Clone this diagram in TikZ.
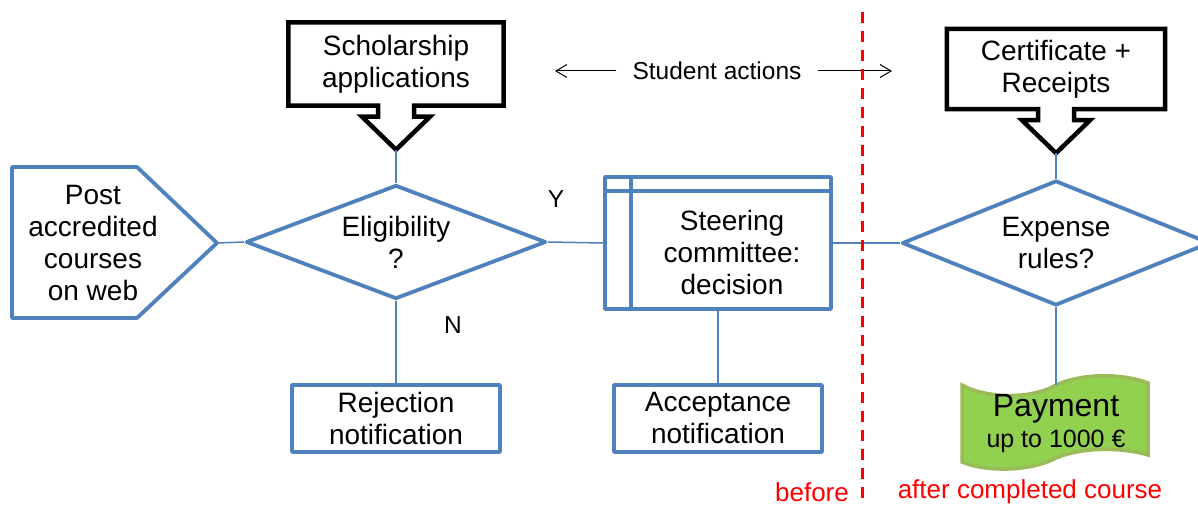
\documentclass[tikz,border=0pt]{standalone}
\usepackage{fontspec}
\setmainfont{Liberation Sans}
\usetikzlibrary{shapes.geometric,arrows.meta}
\definecolor{flowblue}{HTML}{4F81BD}
\definecolor{paygreen}{HTML}{92D050}
\definecolor{payedge}{HTML}{9BBB59}

\begin{document}
\begin{tikzpicture}[
    x=1pt, y=-1pt,
    flow/.style={draw=flowblue, line width=3.8pt, line join=round},
    box/.style={flow, rectangle, minimum width=208, minimum height=67, inner sep=0pt},
    decision/.style={flow, diamond, inner sep=0pt},
    txt/.style={align=center, font=\fontsize{28}{32}\selectfont},
    link/.style={flowblue, line width=1.5pt},
    callout/.style={black, line width=4.5pt, line join=miter},
    note/.style={font=\fontsize{24.5}{28}\selectfont},
    split/.style={red, line width=3pt, dash pattern=on 11pt off 8pt},
    when/.style={red, font=\fontsize{26}{30}\selectfont}]
  \path[use as bounding box, fill=white] (0,0) rectangle (1198,505);
  \clip (0,0) rectangle (1198,505);

  % inputs from the student
  \foreach \nm/\cx/\cy/\w/\h/\txt in {schol/396/64/215/83/{Scholarship\\applications},
                                      cert/1056/69/218/80/{Certificate +\\Receipts}}{
    \node[txt, minimum width=\w, minimum height=\h, inner sep=0pt] (\nm) at (\cx,\cy) {\txt};
    \draw[callout] (\nm.south west) -- ([xshift=-18pt]\nm.south) -- ++(0,11) -- ++(-16,0)
      -- ++(34,33) -- ++(34,-33) -- ++(-16,0) -- ++(0,-11)
      -- (\nm.south east) -- (\nm.north east) -- (\nm.north west) -- cycle;
  }
  \coordinate (schol tip) at ([yshift=-44pt]schol.south);
  \coordinate (cert tip) at ([yshift=-44pt]cert.south);

  % before the course
  \node[txt] (post) at (93,243) {Post\\accredited\\courses\\on web};
  \draw[flow] (12,167) -- (137,167) -- (217,243) coordinate (post tip) -- (137,318) -- (12,318) -- cycle;
  \node[decision, txt, aspect=2.63, minimum width=300, minimum height=114] (elig) at (396,242) {Eligibility\\?};
  \node[flow, minimum width=226, minimum height=132] (steer) at (718,243) {};
  \draw[flow] ([yshift=-16pt]steer.north west) -- ([yshift=-16pt]steer.north east)
              ([xshift=28pt]steer.north west) -- ([xshift=28pt]steer.south west);
  \node[txt] (steer text) at (732,252) {Steering\\committee:\\decision};
  \node[box, txt] (rej) at (396,418.5) {Rejection\\notification};
  \node[box, txt] (acc) at (718,418.5) {Acceptance\\notification};
  \node[note] (yes) at (556,199) {Y};
  \node[note] (no) at (453,325) {N};

  % after the course
  \node[decision, txt, aspect=2.46, minimum width=308, minimum height=125] (exp) at (1056,243) {Expense\\rules?};
  \draw[line width=3.5pt, draw=payedge, fill=paygreen]
    (962,385) .. controls (985,398) and (1030,400) .. (1056,385)
    .. controls (1085,372) and (1125,374) .. (1148,383) -- (1148,455)
    .. controls (1125,448) and (1085,446) .. (1056,458)
    .. controls (1030,472) and (985,472) .. (962,462) -- cycle;
  \coordinate (pay top) at (1056,385);
  \node[align=center] (pay) at (1056,424) {\fontsize{32}{32}\selectfont Payment\\[6pt]
    \fontsize{25}{30}\selectfont up to 1000 €};

  % connectors
  \draw[link] (schol tip) -- (elig.north);
  \draw[link] (post tip) -- (elig.west);
  \draw[link] (elig.south) -- (rej.north);
  \draw[link] (elig.east) -- (steer.west);
  \draw[link] (steer.south) -- (acc.north);
  \draw[link] (steer.east) -- (exp.west);
  \draw[link] (cert tip) -- (exp.north);
  \draw[link] (exp.south) -- (pay top);

  % student actions
  \node[note, inner xsep=16pt] (stud) at (717,71) {Student actions};
  \coordinate (actL) at (555,71);
  \coordinate (actR) at (892,71);
  \draw[-{Straight Barb[length=11pt,width=13pt]}, line width=1pt] (stud.west) -- (actL);
  \draw[-{Straight Barb[length=11pt,width=13pt]}, line width=1pt] (stud.east) -- (actR);

  % before / after
  \draw[split] (862,12) -- (862,500);
  \node[when] (before) at (812,492) {before};
  \node[when] (after) at (1030,492) {after completed course};
\end{tikzpicture}
\end{document}
